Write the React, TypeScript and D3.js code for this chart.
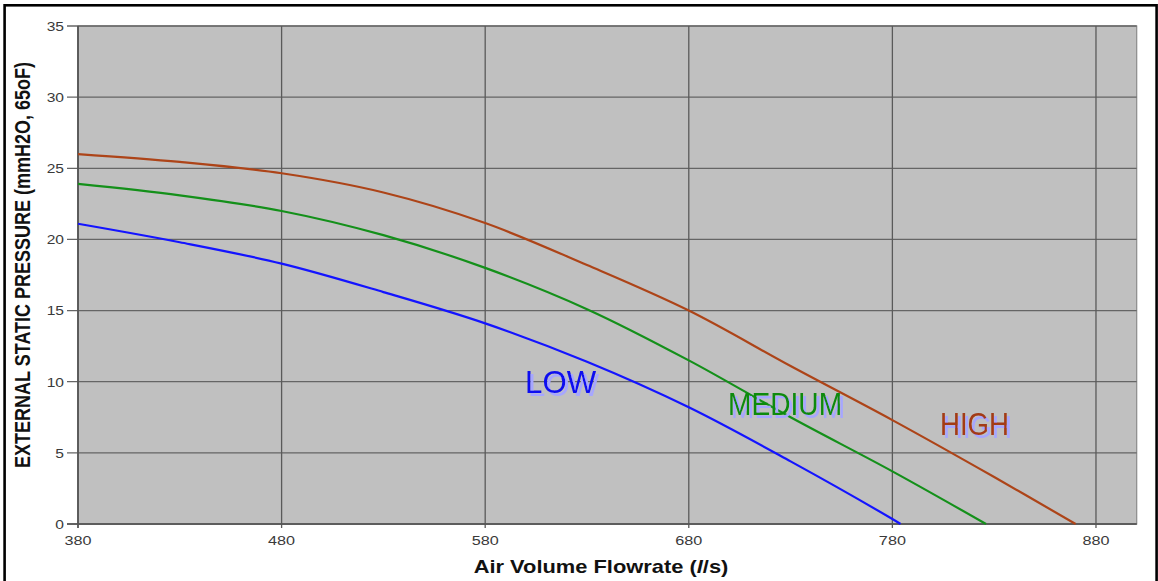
import React from "react";
import * as d3 from "d3";

const xTicks = [380, 480, 580, 680, 780, 880];
const yTicks = [0, 5, 10, 15, 20, 25, 30, 35];

const flowHigh = [380, 430, 480, 530, 580, 630, 680, 730, 780, 830, 870];
const pressureHigh = [26.0, 25.45, 24.65, 23.3, 21.15, 18.2, 15.0, 11.1, 7.3, 3.3, 0];

const flowMedium = [380, 430, 480, 530, 580, 630, 680, 730, 780, 826];
const pressureMedium = [23.9, 23.1, 22.0, 20.3, 18.0, 15.1, 11.5, 7.5, 3.7, 0];

const flowLow = [380, 430, 480, 530, 580, 630, 680, 730, 780, 784];
const pressureLow = [21.1, 19.8, 18.3, 16.3, 14.1, 11.4, 8.2, 4.4, 0.35, 0];

const seriesNames = ["LOW", "MEDIUM", "HIGH"];
const labelFlow = [599.6, 699.3, 803.4];
const labelPressure = [9.23, 7.66, 6.25];

export default function App() {
  const x = d3.scaleLinear().domain([380, 900]).range([78, 1136.7]);
  const y = d3.scaleLinear().domain([0, 35]).range([524, 26]);

  const line = d3
    .line<[number, number]>()
    .x((d) => x(d[0]))
    .y((d) => y(d[1]))
    .curve(d3.curveCatmullRom.alpha(0.5));

  const series = [
    { name: seriesNames[0], xs: flowLow, ys: pressureLow, color: "#1414ff", label: "#0a0af0" },
    { name: seriesNames[1], xs: flowMedium, ys: pressureMedium, color: "#14901a", label: "#108a10" },
    { name: seriesNames[2], xs: flowHigh, ys: pressureHigh, color: "#ad4418", label: "#a33a16" },
  ];
  const labelWidths = [71, 114, 69];

  const left = x(380);
  const right = x(900);
  const top = y(35);
  const bottom = y(0);

  return (
    <svg
      width={1158}
      height={581}
      style={{ position: "absolute", left: 0, top: 0, background: "#fff" }}
      fontFamily="'Liberation Sans', Arial, sans-serif"
    >
      <defs>
        <filter id="lblShadow" x="-10%" y="-20%" width="130%" height="150%">
          <feFlood floodColor="#a6a6ff" result="flood" />
          <feComposite in="flood" in2="SourceAlpha" operator="in" result="shadowShape" />
          <feOffset in="shadowShape" dx={3} dy={3} result="shadow" />
          <feMerge>
            <feMergeNode in="shadow" />
            <feMergeNode in="SourceGraphic" />
          </feMerge>
        </filter>
      </defs>
      <rect x={0} y={0} width={1158} height={581} fill="#fff" />
      <rect x={left} y={top} width={right - left} height={bottom - top} fill="#c0c0c0" stroke="#8a8a8a" strokeWidth={1.2} />
      {yTicks.map((t) => (
        <line key={"gy" + t} x1={left - 11} x2={right} y1={y(t)} y2={y(t)} stroke="#656565" strokeWidth={1.3} />
      ))}
      {xTicks.map((t) => (
        <line key={"gx" + t} x1={x(t)} x2={x(t)} y1={top} y2={bottom + 4} stroke="#5a5a5a" strokeWidth={1.3} />
      ))}
      <line x1={left} x2={left} y1={top} y2={bottom + 4} stroke="#555" strokeWidth={1.5} />
      <line x1={left - 11} x2={right} y1={bottom} y2={bottom} stroke="#555" strokeWidth={1.5} />

      {yTicks.map((t) => (
        <text
          key={"ty" + t}
          transform={`translate(64,${y(t) + 4.8}) scale(1.2,1)`}
          textAnchor="end"
          fontSize={13}
          fill="#3a3a3a"
        >
          {t}
        </text>
      ))}
      {xTicks.map((t) => (
        <text
          key={"tx" + t}
          transform={`translate(${x(t)},545) scale(1.2,1)`}
          textAnchor="middle"
          fontSize={13.5}
          fill="#3a3a3a"
        >
          {t}
        </text>
      ))}

      {series.map((s) => (
        <path
          key={s.name}
          d={line(s.xs.map((v, i) => [v, s.ys[i]] as [number, number])) || ""}
          fill="none"
          stroke={s.color}
          strokeWidth={2.2}
        />
      ))}

      {series.map((s, i) => (
        <text
          key={"lab" + s.name}
          x={x(labelFlow[i])}
          y={y(labelPressure[i])}
          fontSize={31}
          fill={s.label}
          textLength={labelWidths[i]}
          lengthAdjust="spacingAndGlyphs"
          filter="url(#lblShadow)"
        >
          {s.name}
        </text>
      ))}

      <text
        transform="translate(601,573) scale(1.25,1)"
        textAnchor="middle"
        fontSize={17.5}
        fontWeight="bold"
        fill="#111"
      >
        Air Volume Flowrate (<tspan fontStyle="italic">l</tspan>/s)
      </text>
      <text
        transform="translate(29.5,265) scale(1.25,1) rotate(-90)"
        textAnchor="middle"
        fontSize={18}
        fontWeight="bold"
        fill="#111"
      >
        EXTERNAL STATIC PRESSURE (mmH2O, 65oF)
      </text>

      <rect x={4.6} y={5.3} width={1152} height={600} fill="none" stroke="#000" strokeWidth={2.6} />
    </svg>
  );
}
